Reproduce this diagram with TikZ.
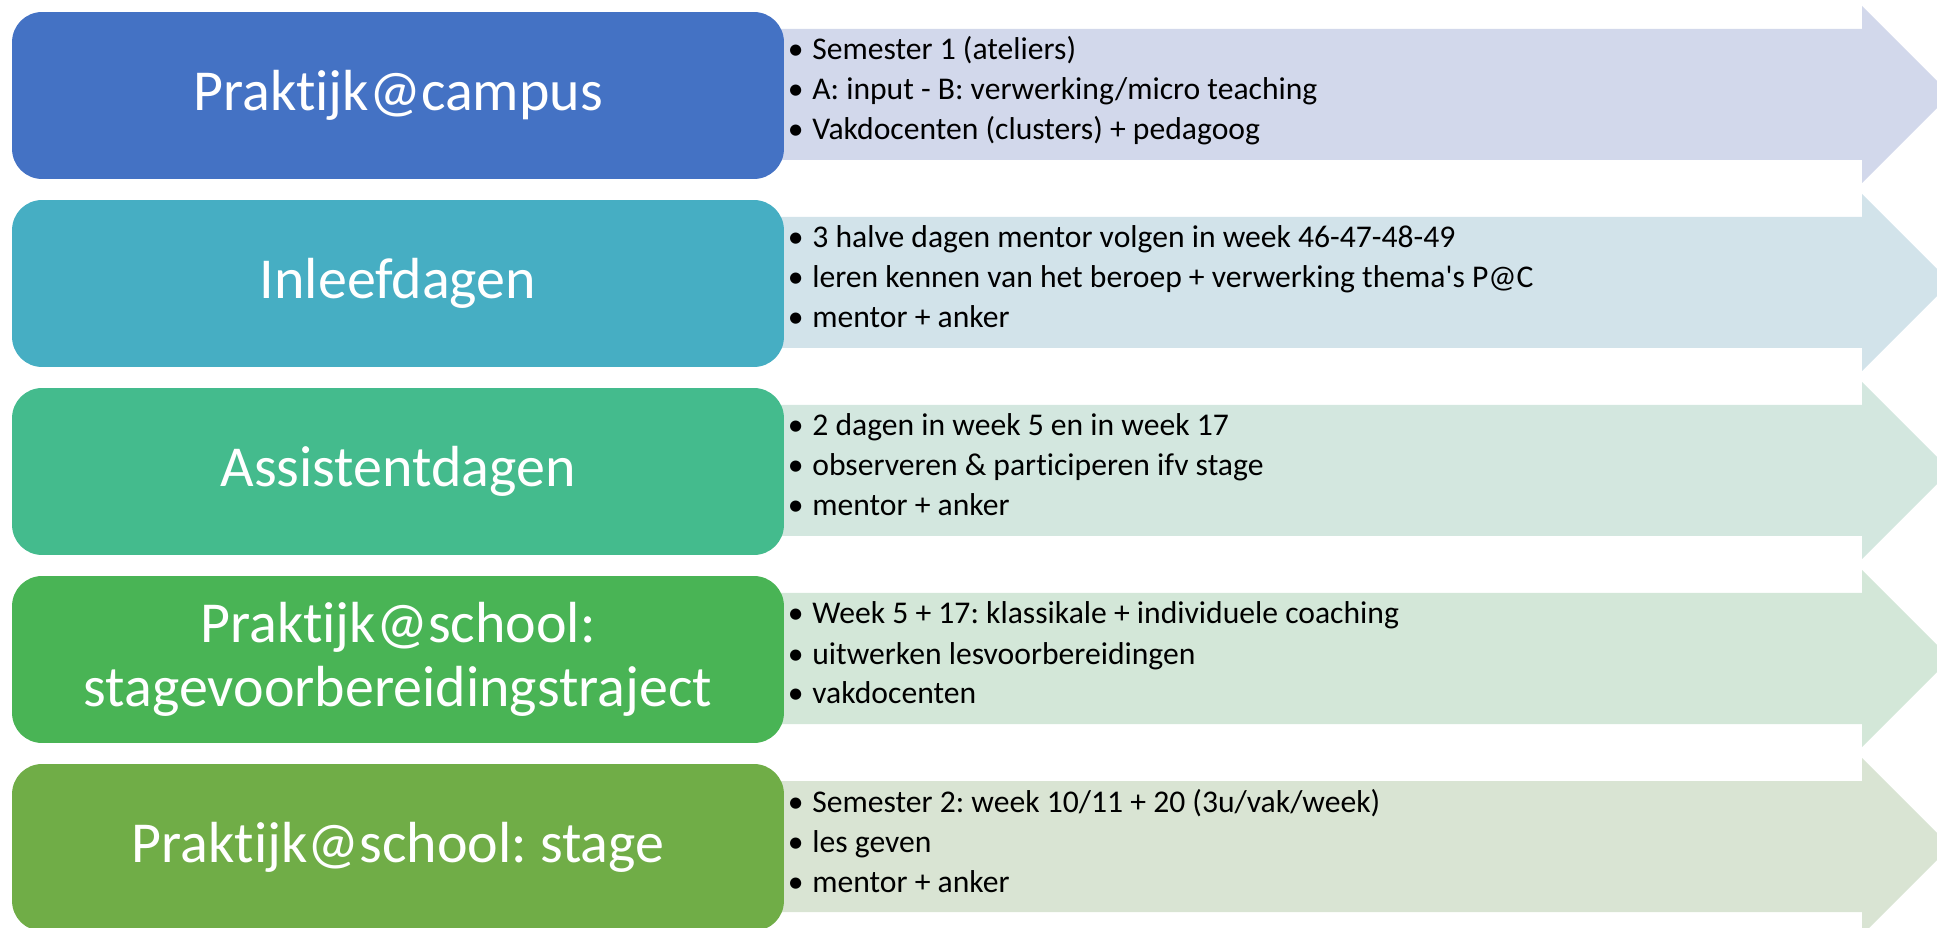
\documentclass[tikz,border=0pt]{standalone}
\usepackage{fontspec}
\setmainfont{Carlito}[Ligatures={NoCommon}]
\usepackage{xcolor}
\usepackage{tikz}
\frenchspacing

\definecolor{campusbox}{HTML}{4472C4}
\definecolor{inleefbox}{HTML}{46AEC3}
\definecolor{assistbox}{HTML}{44BB8D}
\definecolor{stvbbox}{HTML}{49B455}
\definecolor{stagebox}{HTML}{70AD47}
\definecolor{campusband}{HTML}{D2D8EB}
\definecolor{inleefband}{HTML}{D2E3EA}
\definecolor{assistband}{HTML}{D3E7DF}
\definecolor{stvbband}{HTML}{D3E7D8}
\definecolor{stageband}{HTML}{D9E4D3}

\tikzset{
    phase/.style={rounded corners=0.6cm, minimum width=15.44cm, minimum height=3.34cm,
        inner sep=0pt, align=center, text=white, font=\fontsize{33}{36.4}\selectfont},
    item/.style={anchor=base west, inner sep=0pt, font=\fontsize{18}{22}\selectfont},
}

\begin{document}
\begin{tikzpicture}[x=0.02cm, y=-0.02cm]
        \clip (0,0) rectangle (1937,928);

        \foreach \t/\c in {12/campusband, 200/inleefband, 388/assistband, 576/stvbband, 764/stageband}
            \fill[\c] (770,\t+17) -- (1862,\t+17) -- (1862,\t-6) -- (1950.5,\t+82.5)
                -- (1862,\t+171) -- (1862,\t+148) -- (770,\t+148) -- cycle;

        \node[phase, fill=campusbox] (campus) at (398,95.5) {Praktijk@campus};
        \node[phase, fill=inleefbox] (inleef) at (398,283.5) {Inleefdagen};
        \node[phase, fill=assistbox] (assist) at (398,471.5) {Assistentdagen};
        \node[phase, fill=stvbbox]   (stvb)   at (398,659.5) {Praktijk@school:\\stagevoorbereidingstraject};
        \node[phase, fill=stagebox]  (stage)  at (398,847.5) {Praktijk@school: stage};

        \node[item] (campus1) at (812,60)  {\llap{•\hskip 5pt}Semester 1 (ateliers)};
        \node[item] (campus2) at (812,100) {\llap{•\hskip 5pt}A: input - B: verwerking/micro teaching};
        \node[item] (campus3) at (812,140) {\llap{•\hskip 5pt}Vakdocenten (clusters) + pedagoog};

        \node[item] (inleef1) at (812,248) {\llap{•\hskip 5pt}3 halve dagen mentor volgen in week 46-47-48-49};
        \node[item] (inleef2) at (812,288) {\llap{•\hskip 5pt}leren kennen van het beroep + verwerking thema\textquotesingle s P@C};
        \node[item] (inleef3) at (812,328) {\llap{•\hskip 5pt}mentor + anker};

        \node[item] (assist1) at (812,436) {\llap{•\hskip 5pt}2 dagen in week 5 en in week 17};
        \node[item] (assist2) at (812,476) {\llap{•\hskip 5pt}observeren \& participeren ifv stage};
        \node[item] (assist3) at (812,516) {\llap{•\hskip 5pt}mentor + anker};

        \node[item] (stvb1) at (812,624) {\llap{•\hskip 5pt}Week 5 + 17: klassikale + individuele coaching};
        \node[item] (stvb2) at (812,664) {\llap{•\hskip 5pt}uitwerken lesvoorbereidingen};
        \node[item] (stvb3) at (812,704) {\llap{•\hskip 5pt}vakdocenten};

        \node[item] (stage1) at (812,812) {\llap{•\hskip 5pt}Semester 2: week 10/11 + 20 (3u/vak/week)};
        \node[item] (stage2) at (812,852) {\llap{•\hskip 5pt}les geven};
        \node[item] (stage3) at (812,892) {\llap{•\hskip 5pt}mentor + anker};
    \end{tikzpicture}
\end{document}
